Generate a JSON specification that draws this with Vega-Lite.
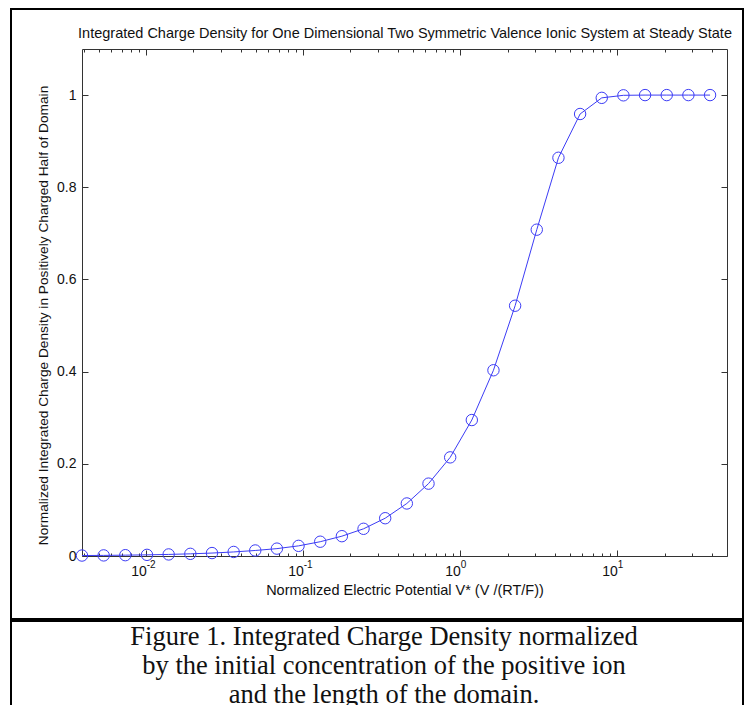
{
  "$schema": "https://vega.github.io/schema/vega-lite/v6.json",
  "padding": {"left": 10, "top": 8, "right": 0, "bottom": 0},
  "background": "white",
  "spacing": 0,
  "config": {
    "font": "Liberation Sans",
    "axis": {
      "labelFont": "Liberation Sans", "titleFont": "Liberation Sans",
      "labelFontSize": 14, "titleFontSize": 14.5, "titleFontWeight": "normal",
      "labelColor": "#111", "titleColor": "#111",
      "domainColor": "#333", "tickColor": "#333", "domainWidth": 1, "tickWidth": 1, "grid": false
    }
  },
  "vconcat": [
    {
      "width": 732,
      "height": 610,
      "view": {"stroke": "black", "strokeWidth": 2},
      "data": {"values": [
        {"v": 0.003899, "q": 0.001},
        {"v": 0.005358, "q": 0.0013},
        {"v": 0.007362, "q": 0.0018},
        {"v": 0.010116, "q": 0.0025},
        {"v": 0.0139, "q": 0.0034},
        {"v": 0.019099, "q": 0.0047},
        {"v": 0.026242, "q": 0.0064},
        {"v": 0.036058, "q": 0.0088},
        {"v": 0.04948, "q": 0.012},
        {"v": 0.06799, "q": 0.016},
        {"v": 0.09339, "q": 0.022},
        {"v": 0.12831, "q": 0.031},
        {"v": 0.17627, "q": 0.043},
        {"v": 0.24217, "q": 0.059},
        {"v": 0.33273, "q": 0.082},
        {"v": 0.45703, "q": 0.114},
        {"v": 0.62796, "q": 0.157},
        {"v": 0.86283, "q": 0.214},
        {"v": 1.185, "q": 0.295},
        {"v": 1.6278, "q": 0.403},
        {"v": 2.2362, "q": 0.543},
        {"v": 3.0724, "q": 0.708},
        {"v": 4.2218, "q": 0.864},
        {"v": 5.8, "q": 0.959},
        {"v": 7.9676, "q": 0.994},
        {"v": 10.946, "q": 0.9995},
        {"v": 15.039, "q": 1.0},
        {"v": 20.662, "q": 1.0},
        {"v": 28.387, "q": 1.0},
        {"v": 38.996, "q": 1.0}
      ]},
      "layer": [
        {
          "mark": {"type": "line", "color": "#3c3cf5", "strokeWidth": 1},
          "encoding": {
            "x": {"field": "v", "type": "quantitative",
              "scale": {"type": "log", "domain": [0.0039, 50], "range": [71, 716], "nice": false},
              "axis": {"orient": "bottom", "offset": -63, "values": [0.01, 0.1, 1, 10],
                "labelExpr": "'10'", "labelAlign": "right", "labelDx": 1,
                "tickSize": -6, "labelPadding": 14, "labelFlush": false,
                "title": "Normalized Electric Potential V* (V /(RT/F))", "titlePadding": 5}},
            "y": {"field": "q", "type": "quantitative",
              "scale": {"domain": [0, 1.1], "range": [547, 40], "nice": false, "zero": false},
              "axis": {"orient": "left", "offset": -71, "values": [0, 0.2, 0.4, 0.6, 0.8, 1], "format": ".1~f",
                "tickSize": -6, "labelPadding": 12, "labelFlush": false, "titleFontSize": 13.7,
                "title": "Normalized Integrated Charge Density in Positively Charged Half of Domain", "titlePadding": 6, "titleY": 306}}
          }
        },
        {
          "mark": {"type": "point", "shape": "circle", "filled": false, "size": 130, "stroke": "#3c3cf5", "strokeWidth": 1, "opacity": 1},
          "encoding": {
            "x": {"field": "v", "type": "quantitative",
              "scale": {"type": "log", "domain": [0.0039, 50], "range": [71, 716], "nice": false},
              "axis": {"orient": "top", "offset": -40, "values": [0.01, 0.1, 1, 10], "labels": false,
                "tickSize": -6, "title": "Integrated Charge Density for One Dimensional Two Symmetric Valence Ionic System at Steady State",
                "titlePadding": 8}},
            "y": {"field": "q", "type": "quantitative",
              "scale": {"domain": [0, 1.1], "range": [547, 40], "nice": false, "zero": false},
              "axis": {"orient": "right", "offset": -16, "values": [0, 0.2, 0.4, 0.6, 0.8, 1], "labels": false,
                "tickSize": -6, "title": null}}
          }
        },
        {
          "mark": {"type": "point", "opacity": 0},
          "encoding": {
            "x": {"field": "v", "type": "quantitative",
              "scale": {"type": "log", "domain": [0.0039, 50], "range": [71, 716], "nice": false},
              "axis": {"orient": "bottom", "offset": -63, "domain": false, "labels": false, "tickSize": -3, "title": null,
                "values": [0.004, 0.005, 0.006, 0.007, 0.008, 0.009, 0.02, 0.03, 0.04, 0.05, 0.06, 0.07, 0.08, 0.09, 0.2, 0.3, 0.4, 0.5, 0.6, 0.7, 0.8, 0.9, 2, 3, 4, 5, 6, 7, 8, 9, 20, 30, 40]}},
            "y": {"field": "q", "type": "quantitative",
              "scale": {"domain": [0, 1.1], "range": [547, 40], "nice": false, "zero": false}, "axis": null}
          }
        },
        {
          "mark": {"type": "point", "opacity": 0},
          "encoding": {
            "x": {"field": "v", "type": "quantitative",
              "scale": {"type": "log", "domain": [0.0039, 50], "range": [71, 716], "nice": false},
              "axis": {"orient": "top", "offset": -40, "domain": false, "labels": false, "tickSize": -3, "title": null,
                "values": [0.004, 0.005, 0.006, 0.007, 0.008, 0.009, 0.02, 0.03, 0.04, 0.05, 0.06, 0.07, 0.08, 0.09, 0.2, 0.3, 0.4, 0.5, 0.6, 0.7, 0.8, 0.9, 2, 3, 4, 5, 6, 7, 8, 9, 20, 30, 40]}},
            "y": {"field": "q", "type": "quantitative",
              "scale": {"domain": [0, 1.1], "range": [547, 40], "nice": false, "zero": false}, "axis": null}
          }
        },
        {
          "mark": {"type": "point", "opacity": 0},
          "encoding": {
            "x": {"field": "v", "type": "quantitative",
              "scale": {"type": "log", "domain": [0.0039, 50], "range": [71, 716], "nice": false},
              "axis": {"orient": "bottom", "offset": -63, "domain": false, "ticks": false, "title": null,
                "values": [0.01, 0.1, 1, 10],
                "labelExpr": "datum.value < 0.05 ? '-2' : datum.value < 0.5 ? '-1' : datum.value < 5 ? '0' : '1'",
                "labelFontSize": 10, "labelAlign": "left", "labelDx": 1, "labelPadding": 3, "labelFlush": false}},
            "y": {"field": "q", "type": "quantitative",
              "scale": {"domain": [0, 1.1], "range": [547, 40], "nice": false, "zero": false}, "axis": null}
          }
        }
      ],
      "resolve": {"axis": {"x": "independent", "y": "independent"}}
    },
    {
      "width": 732,
      "height": 110,
      "view": {"stroke": "black", "strokeWidth": 2},
      "data": {"values": [
        {"line": 1, "text": "Figure 1. Integrated Charge Density normalized"},
        {"line": 2, "text": "by the initial concentration of the positive ion"},
        {"line": 3, "text": "and the length of the domain."}
      ]},
      "mark": {"type": "text", "font": "Liberation Serif", "fontSize": 26.5, "baseline": "middle", "align": "center", "dx": 7, "color": "#111"},
      "encoding": {
        "y": {"field": "line", "type": "quantitative", "scale": {"domain": [1, 3], "range": [16, 74]}, "axis": null},
        "text": {"field": "text"}
      }
    }
  ]
}
